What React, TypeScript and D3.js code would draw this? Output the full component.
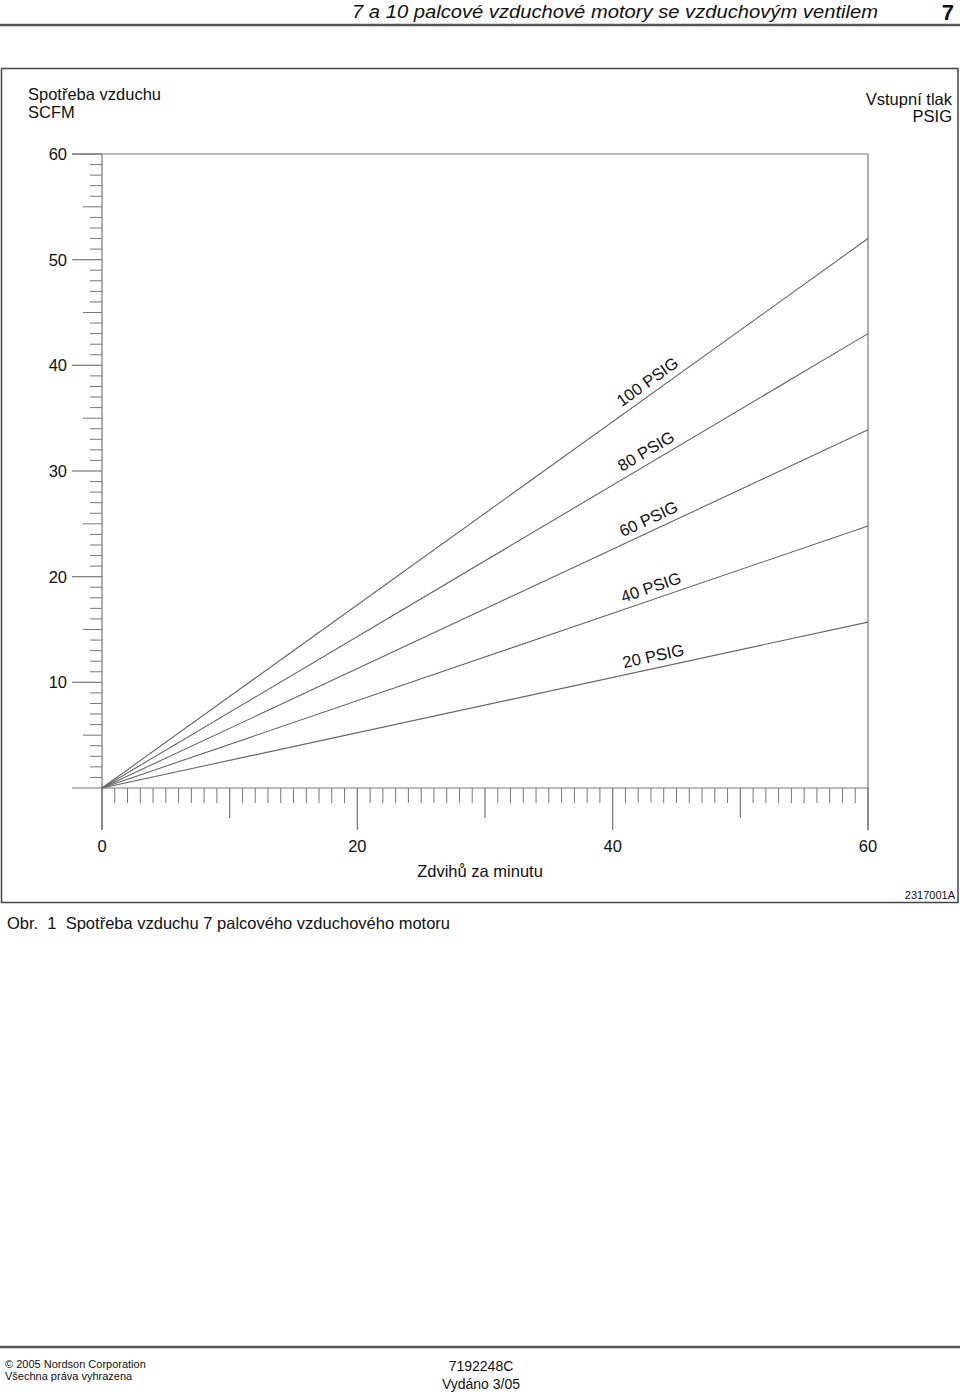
import React from "react";
import * as d3 from "d3";

// ---- data ----
const strokesPerMinute = [0, 60];
const psig20 = [0, 15.7];
const psig40 = [0, 24.8];
const psig60 = [0, 33.9];
const psig80 = [0, 43.0];
const psig100 = [0, 52.0];
const seriesLabels = ["20 PSIG", "40 PSIG", "60 PSIG", "80 PSIG", "100 PSIG"];
const seriesValues = [psig20, psig40, psig60, psig80, psig100];
const xTickLabels = [0, 20, 40, 60];
const yTickLabels = [10, 20, 30, 40, 50, 60];
const labelAtStroke = 41.0;

const FONT = "'Liberation Sans', Arial, Helvetica, sans-serif";

export default function App() {
  const x = d3.scaleLinear().domain([0, 60]).range([102, 868]);
  const y = d3.scaleLinear().domain([0, 60]).range([788, 154]);
  const line = d3
    .line<[number, number]>()
    .x((d) => x(d[0]))
    .y((d) => y(d[1]));

  const yMinor = d3.range(1, 60).filter((v) => v % 10 !== 0);
  const xMinor = d3.range(1, 60).filter((v) => v % 10 !== 0);
  const xMid = [10, 30, 50];

  const axisColor = "#777";
  const lineColor = "#666";

  return (
    <svg
      width={960}
      height={1392}
      style={{ position: "absolute", left: 0, top: 0, background: "#fff" }}
      fontFamily={FONT}
    >
      {/* header */}
      <text
        x={352}
        y={18}
        fontSize={19}
        fontStyle="italic"
        fill="#111"
        textLength={526}
        lengthAdjust="spacingAndGlyphs"
      >
        7 a 10 palcové vzduchové motory se vzduchovým ventilem
      </text>
      <text x={954} y={20} fontSize={22} fontWeight="bold" textAnchor="end" fill="#111">
        7
      </text>
      <line x1={0} x2={960} y1={25} y2={25} stroke="#555" strokeWidth={2.5} />

      {/* frame */}
      <rect x={1.5} y={68.5} width={956.5} height={834} fill="none" stroke="#444" strokeWidth={1.5} />

      {/* axis titles */}
      <text x={28} y={100} fontSize={16.5} fill="#111">Spotřeba vzduchu</text>
      <text x={28} y={118} fontSize={16.5} fill="#111">SCFM</text>
      <text x={952} y={105} fontSize={16.5} fill="#111" textAnchor="end">Vstupní tlak</text>
      <text x={952} y={122} fontSize={16.5} fill="#111" textAnchor="end">PSIG</text>

      {/* y axis */}
      <line x1={x(0)} x2={x(0)} y1={y(60)} y2={830} stroke={axisColor} strokeWidth={1.2} />
      <line x1={x(60)} x2={x(60)} y1={y(60)} y2={830} stroke={axisColor} strokeWidth={1.2} />
      <line x1={72} x2={x(60)} y1={y(0)} y2={y(0)} stroke={axisColor} strokeWidth={1.2} />
      <line x1={72} x2={x(60)} y1={y(60)} y2={y(60)} stroke={axisColor} strokeWidth={1.2} />
      {yMinor.map((v) => (
        <line
          key={"ym" + v}
          x1={v % 5 === 0 ? 83 : 90}
          x2={x(0)}
          y1={y(v)}
          y2={y(v)}
          stroke={axisColor}
          strokeWidth={1}
        />
      ))}
      {yTickLabels.map((v) => (
        <g key={"yt" + v}>
          <line x1={72} x2={x(0)} y1={y(v)} y2={y(v)} stroke={axisColor} strokeWidth={1.2} />
          <text x={67} y={y(v) + 6} fontSize={16.5} textAnchor="end" fill="#111">
            {v}
          </text>
        </g>
      ))}

      {/* x axis ticks */}
      {xMinor.map((v) => (
        <line
          key={"xm" + v}
          x1={x(v)}
          x2={x(v)}
          y1={y(0)}
          y2={xMid.includes(v) ? 818 : 803}
          stroke={axisColor}
          strokeWidth={1}
        />
      ))}
      {xMid.map((v) => (
        <line key={"xmid" + v} x1={x(v)} x2={x(v)} y1={y(0)} y2={818} stroke={axisColor} strokeWidth={1.2} />
      ))}
      {xTickLabels.map((v) => (
        <g key={"xt" + v}>
          <line x1={x(v)} x2={x(v)} y1={y(0)} y2={830} stroke={axisColor} strokeWidth={1.2} />
          <text x={x(v)} y={852} fontSize={16.5} textAnchor="middle" fill="#111">
            {v}
          </text>
        </g>
      ))}
      <text x={480} y={877} fontSize={16.5} textAnchor="middle" fill="#111">
        Zdvihů za minutu
      </text>
      <text x={955} y={899} fontSize={11} textAnchor="end" fill="#111">
        2317001A
      </text>

      {/* series */}
      {seriesValues.map((vals, i) => {
        const pts = strokesPerMinute.map((s, j) => [s, vals[j]] as [number, number]);
        return (
          <path key={"s" + i} d={line(pts) || ""} fill="none" stroke={lineColor} strokeWidth={1.1} />
        );
      })}
      {seriesValues.map((vals, i) => {
        const x0 = x(strokesPerMinute[0]);
        const y0 = y(vals[0]);
        const x1 = x(strokesPerMinute[strokesPerMinute.length - 1]);
        const y1 = y(vals[vals.length - 1]);
        const ang = Math.atan2(y1 - y0, x1 - x0);
        const slope = (vals[vals.length - 1] - vals[0]) / (strokesPerMinute[strokesPerMinute.length - 1] - strokesPerMinute[0]);
        const lx = x(labelAtStroke);
        const ly = y(vals[0] + slope * (labelAtStroke - strokesPerMinute[0]));
        const off = 6.5;
        const px = lx + off * Math.sin(ang);
        const py = ly - off * Math.cos(ang);
        return (
          <text
            key={"l" + i}
            x={0}
            y={0}
            fontSize={16.5}
            fill="#111"
            transform={`translate(${px},${py}) rotate(${(ang * 180) / Math.PI})`}
          >
            {seriesLabels[i]}
          </text>
        );
      })}

      {/* caption */}
      <text x={7} y={929} fontSize={16.5} fill="#111" style={{ whiteSpace: "pre" }}>
        {"Obr.  1  Spotřeba vzduchu 7 palcového vzduchového motoru"}
      </text>

      {/* footer */}
      <line x1={0} x2={960} y1={1347} y2={1347} stroke="#555" strokeWidth={2.5} />
      <text x={5} y={1368} fontSize={11} fill="#111">© 2005 Nordson Corporation</text>
      <text x={5} y={1380} fontSize={11} fill="#111">Všechna práva vyhrazena</text>
      <text x={481} y={1371} fontSize={14} textAnchor="middle" fill="#111">7192248C</text>
      <text x={481} y={1389} fontSize={14} textAnchor="middle" fill="#111">Vydáno 3/05</text>
    </svg>
  );
}
